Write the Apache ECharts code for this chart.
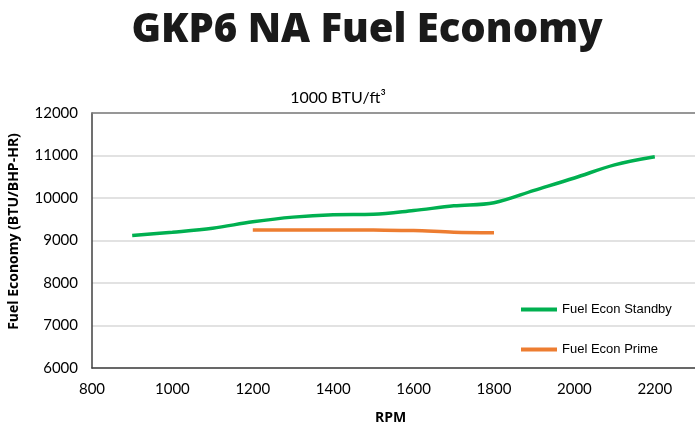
<!DOCTYPE html>
<html>
<head>
<meta charset="utf-8">
<script src="https://cdn.jsdelivr.net/npm/echarts@6/dist/echarts.min.js"></script>
<style>
  html, body { margin: 0; padding: 0; background: #fff; }
  #chart { width: 695px; height: 425px; }
</style>
</head>
<body>
<div id="chart"></div>
<script>
var rpmStandby = [900, 1000, 1100, 1200, 1300, 1400, 1500, 1600, 1700, 1800, 1900, 2000, 2100, 2200];
var fuelStandby = [9115, 9195, 9290, 9440, 9550, 9605, 9615, 9705, 9815, 9890, 10180, 10470, 10780, 10970];
var rpmPrime = [1200, 1300, 1400, 1500, 1600, 1700, 1800];
var fuelPrime = [9250, 9250, 9250, 9245, 9235, 9195, 9185];

function pairs(xs, ys) {
	return xs.map(function (x, i) { return [x, ys[i]]; });
}

(function () {
	let myChart = echarts.init(document.getElementById("chart"));
	let labelFont = { color: "#000", fontSize: 15, fontFamily: "Lato" };
	let plain = function (v) { return String(v); };
	let option = {
		animation: false,
		title: [
			{
				text: "GKP6 NA Fuel Economy",
				left: 362,
				textAlign: "center",
				top: 6,
				textStyle: { fontFamily: "Open Sans", fontWeight: 800, fontSize: 40, color: "#1a1a1a" }
			},
			{
				text: "1000 BTU/ft³",
				left: 333,
				textAlign: "center",
				top: 85,
				textStyle: { fontFamily: "Lato", fontWeight: "normal", fontSize: 16, color: "#000" }
			}
		],
		legend: {
			orient: "vertical",
			left: 516,
			top: 298,
			itemGap: 27,
			itemWidth: 36,
			itemHeight: 4,
			icon: "rect",
			textStyle: { fontFamily: "Liberation Sans", fontSize: 13, color: "#000" },
			data: ["Fuel Econ Standby", "Fuel Econ Prime"]
		},
		grid: {
			left: 92,
			top: 113,
			right: 0,
			bottom: 57,
			outerBoundsMode: "none"
		},
		xAxis: [
			{
				type: "value",
				min: 800,
				max: 2300,
				interval: 200,
				name: "RPM",
				nameLocation: "middle",
				nameGap: 43,
				nameTextStyle: { fontFamily: "Open Sans", fontWeight: "bold", fontSize: 14, color: "#000", padding: [0, 6, 0, 0] },
				axisLine: { lineStyle: { color: "#404040", width: 1.5 } },
				axisTick: { show: false },
				splitLine: { show: false },
				axisLabel: Object.assign({ margin: 14, showMaxLabel: false, formatter: plain }, labelFont)
			},
			{
				type: "value",
				position: "top",
				min: 800,
				max: 2300,
				axisLine: { show: true, lineStyle: { color: "#7f7f7f", width: 1.5 } },
				axisTick: { show: false },
				axisLabel: { show: false },
				splitLine: { show: false }
			}
		],
		yAxis: {
			type: "value",
			min: 6000,
			max: 12000,
			interval: 1000,
			name: "Fuel Economy (BTU/BHP-HR)",
			nameLocation: "middle",
			nameGap: 71,
			nameTextStyle: { fontFamily: "Open Sans", fontWeight: "bold", fontSize: 14, color: "#000", padding: [0, 0, 0, 18] },
			axisLine: { show: true, lineStyle: { color: "#404040", width: 1.5 } },
			axisTick: { show: false },
			axisLabel: Object.assign({ margin: 14, formatter: plain }, labelFont),
			splitLine: { lineStyle: { color: "#d9d9d9", width: 1.5 } }
		},
		series: [
			{
				name: "Fuel Econ Standby",
				type: "line",
				smooth: 0.35,
				symbol: "none",
				color: "#00b050",
				lineStyle: { width: 3.5, color: "#00b050" },
				data: pairs(rpmStandby, fuelStandby)
			},
			{
				name: "Fuel Econ Prime",
				type: "line",
				smooth: 0.35,
				symbol: "none",
				color: "#ed7d31",
				lineStyle: { width: 3.5, color: "#ed7d31" },
				data: pairs(rpmPrime, fuelPrime)
			}
		]
	};
	myChart.setOption(option);
	window.addEventListener("resize", function () {
		myChart.resize();
	});
})();
</script>
</body>
</html>
